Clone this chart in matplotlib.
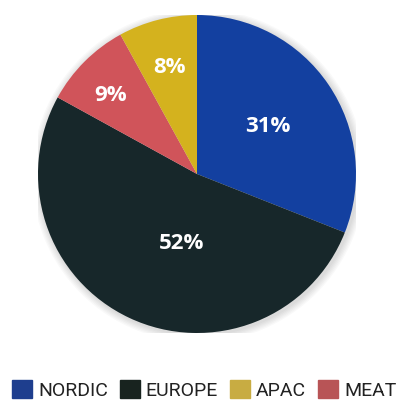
import numpy as np
import matplotlib
matplotlib.use("Agg")
import matplotlib.pyplot as plt
from matplotlib.patches import Patch, Circle

plt.rcParams["font.family"] = "Roboto"

# clockwise from 12 o'clock
labels = ["NORDIC", "EUROPE", "MEAT", "APAC"]
values = [31, 52, 9, 8]
colors = ["#1340A0", "#17272A", "#D0545A", "#D4B21E"]
legend_colors = {"NORDIC": "#1E3E8E", "EUROPE": "#18231F", "APAC": "#C8AC42", "MEAT": "#B85456"}
# label placement: distance from centre, angle nudge (deg)
label_dist = [0.536, 0.45, 0.735, 0.694]
label_nudge = [-0.7, 13, 3, 0]

legend_order = ["NORDIC", "EUROPE", "APAC", "MEAT"]

fig = plt.figure(figsize=(4, 4), dpi=100)
ax = fig.add_axes([38 / 400, 1 - 333 / 400, 318 / 400, 318 / 400])

# faint drop shadow
for i in range(6):
    ax.add_patch(Circle((0.01, -0.01), 1.0 + 0.008 * (i + 1), color="#000000",
                        alpha=0.025, lw=0, zorder=0))

wedges, _ = ax.pie(values, colors=colors, startangle=90, counterclock=False,
                   radius=1.0, wedgeprops=dict(linewidth=0, zorder=1))

for w, v, d, n in zip(wedges, values, label_dist, label_nudge):
    ang = np.deg2rad((w.theta1 + w.theta2) / 2 + n)
    ax.text(d * np.cos(ang), d * np.sin(ang), f"{v}%", ha="center", va="center",
            color="white", fontsize=16, fontweight="bold", family="Open Sans", zorder=3)

ax.set_xlim(-1, 1)
ax.set_ylim(-1, 1)
ax.set_aspect("equal")

handles = [Patch(color=legend_colors[n]) for n in legend_order]
fig.legend(handles, legend_order, loc="center", bbox_to_anchor=(0.51, 1 - 390 / 400),
           ncol=4, frameon=False, fontsize=14, handlelength=1.05, handleheight=1.05,
           handletextpad=0.3, columnspacing=0.6, labelcolor="#222222")

fig.savefig("out.png", dpi=100)
